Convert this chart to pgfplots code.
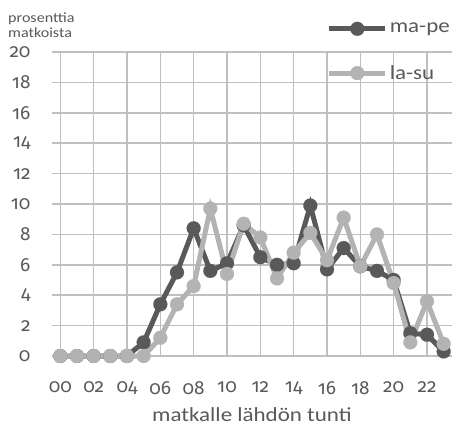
\documentclass[border=0pt]{standalone}
\usepackage{pgfplots}
\pgfplotsset{compat=1.18}
\usepackage{fontspec}
\setmainfont{Carlito}[FakeStretch=1.15]
\newfontfamily\numfont{Fira Sans}[Numbers=OldStyle]
\definecolor{txt}{HTML}{595959}
\definecolor{dark}{HTML}{595959}
\definecolor{light}{HTML}{B3B3B3}
\definecolor{grid}{HTML}{D9D9D9}
\begin{document}
\begin{tikzpicture}
\begin{axis}[
  name=ax,
  scale only axis,
  width=400bp, height=304bp,
  xmin=-0.5, xmax=23.5, ymin=0, ymax=20,
  axis line style={draw=none},
  clip=false,
  major tick length=0pt,
  ytick={0,2,...,20},
  xtick={0,2,...,22},
  xticklabels={00,02,04,06,08,10,12,14,16,18,20,22},
  ymajorgrids,
  grid style={grid, line width=1.5bp},
  /pgf/number format/assume math mode=true,
  tick label style={font=\numfont\fontsize{19bp}{23bp}\selectfont, text=txt},
  yticklabel style={xshift=-18bp},
  xticklabel style={yshift=-22bp},
  xlabel={matkalle lähdön tunti},
  xlabel style={font=\fontsize{20bp}{24bp}\selectfont, text=txt, at={(axis description cs:0.5,0)}, anchor=north, yshift=-48bp},
  legend cell align=left,
  legend style={draw=none, fill=none, at={(axis description cs:1,1)}, anchor=east, inner sep=0pt,
    font=\fontsize{20bp}{24bp}\selectfont, text=txt, row sep=27bp},
  legend image code/.code={\draw[#1, mark repeat=2, mark phase=2] plot coordinates {(0bp,0bp) (28bp,0bp) (56bp,0bp)};},
]
\addplot[color=dark, line width=5bp, mark=*, mark size=7bp, mark options={solid, line width=0.1bp}] coordinates {
(0,0) (1,0) (2,0) (3,0) (4,0) (5,0.9) (6,3.4) (7,5.5) (8,8.4) (9,5.6) (10,6.1) (11,8.6)
(12,6.5) (13,6.0) (14,6.1) (15,9.9) (16,5.7) (17,7.1) (18,5.9) (19,5.6) (20,5.0) (21,1.5) (22,1.4) (23,0.3)};
\addlegendentry{ma-pe}
\addplot[color=light, line width=5bp, mark=*, mark size=7bp, mark options={solid, line width=0.1bp}] coordinates {
(0,0) (1,0) (2,0) (3,0) (4,0) (5,0) (6,1.2) (7,3.4) (8,4.6) (9,9.7) (10,5.4) (11,8.7)
(12,7.8) (13,5.1) (14,6.8) (15,8.1) (16,6.3) (17,9.1) (18,5.9) (19,8.0) (20,4.8) (21,0.9) (22,3.6) (23,0.8)};
\addlegendentry{la-su}
\end{axis}
\node[anchor=base west, inner sep=0pt, font=\fontsize{14bp}{16bp}\selectfont, text=txt] at ([xshift=-44bp, yshift=29bp]ax.north west) {prosenttia};
\node[anchor=base west, inner sep=0pt, font=\fontsize{14bp}{16bp}\selectfont, text=txt] at ([xshift=-44bp, yshift=14bp]ax.north west) {matkoista};
\pgfresetboundingbox
\path ([xshift=-52bp, yshift=-77bp]ax.south west) rectangle ([yshift=52bp]ax.north east);
\end{tikzpicture}
\end{document}
